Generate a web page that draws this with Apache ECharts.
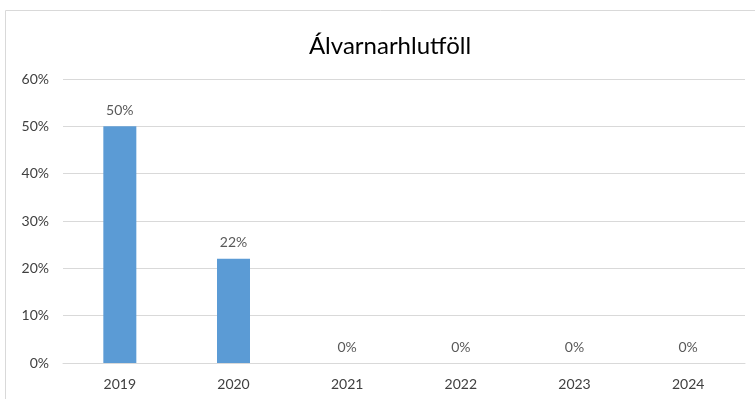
<!DOCTYPE html>
<html><head><meta charset="utf-8">
<script src="https://cdn.jsdelivr.net/npm/echarts@6/dist/echarts.min.js"></script>
<style>html,body{margin:0;padding:0;background:#fff}#c{width:755px;height:399px}</style>
</head><body><div id="c"></div>
<script>
const categories = ['2019','2020','2021','2022','2023','2024'];
const values = [0.50, 0.22, 0, 0, 0, 0];
const yTicks = [0, 0.1, 0.2, 0.3, 0.4, 0.5, 0.6];
const titleText = 'Álvarnarhlutföll';

const chart = echarts.init(document.getElementById('c'));
const font = 'Lato, "Open Sans", sans-serif';
chart.setOption({
  animation: false,
  title: { text: titleText, left: 385, top: 29, textAlign: 'center',
    textStyle: { fontFamily: font, fontSize: 24, fontWeight: 'normal', color: '#000' } },
  graphic: [{ type: 'rect', shape: { x: 5.5, y: 10.5, width: 760, height: 400 },
    style: { fill: 'none', stroke: '#d9d9d9', lineWidth: 1 }, silent: true }],
  grid: { left: 63, right: 10, top: 79, bottom: 36, containLabel: false },
  xAxis: { type: 'category', data: categories,
    axisLine: { lineStyle: { color: '#d9d9d9' } }, axisTick: { show: false },
    axisLabel: { color: '#404040', fontFamily: font, fontSize: 14, margin: 14 } },
  yAxis: { type: 'value', min: yTicks[0], max: yTicks[yTicks.length-1], interval: 0.1,
    axisLine: { show: false }, axisTick: { show: false },
    splitLine: { lineStyle: { color: '#d9d9d9' } },
    axisLabel: { color: '#404040', fontFamily: font, fontSize: 14, margin: 14,
      formatter: v => Math.round(v*100) + '%' } },
  series: [{ type: 'bar', data: values, barWidth: 33,
    itemStyle: { color: '#5b9bd5' },
    label: { show: true, position: 'top', distance: 9, color: '#595959', fontFamily: font, fontSize: 14,
      formatter: p => Math.round(p.value*100) + '%' } }]
});
</script></body></html>
